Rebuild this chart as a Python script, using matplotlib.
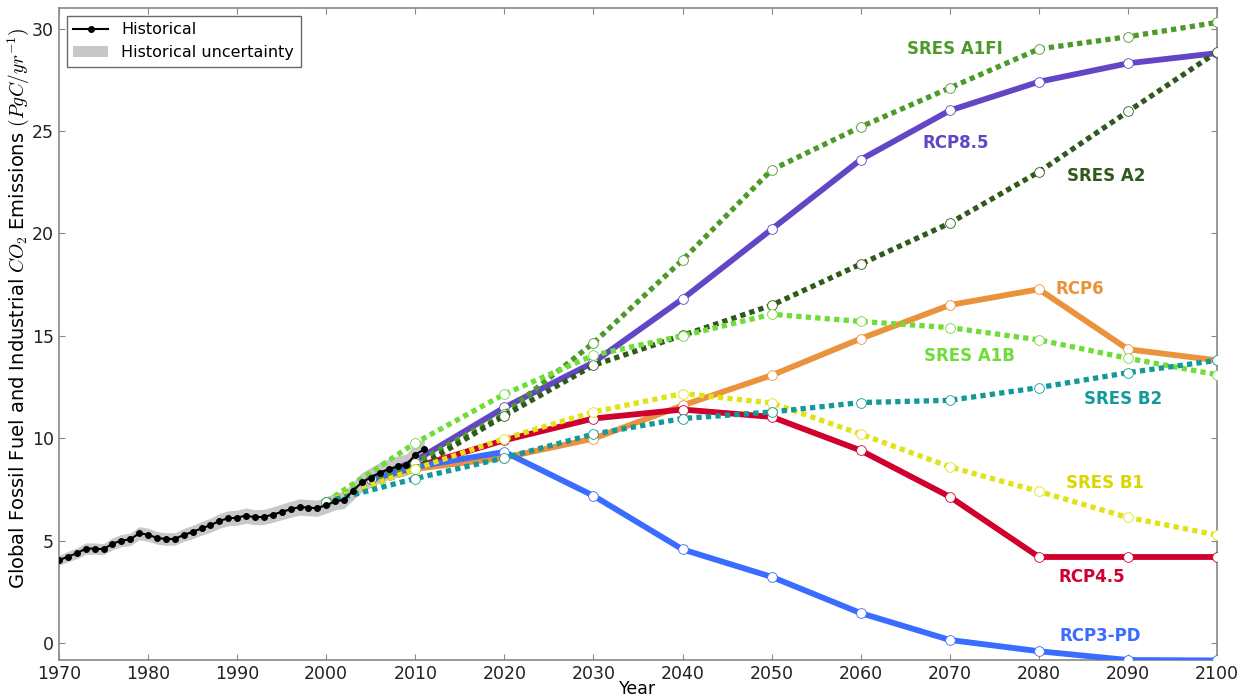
import numpy as np
import matplotlib.pyplot as plt

plt.rcParams['mathtext.fontset'] = 'cm'

# Historical emissions 1970-2011 (PgC/yr)
hist_years = np.arange(1970, 2012)
hist_vals = [4.04, 4.22, 4.38, 4.61, 4.61, 4.58, 4.85, 5.00, 5.06, 5.36,
             5.29, 5.13, 5.08, 5.08, 5.28, 5.42, 5.60, 5.75, 5.96, 6.09,
             6.12, 6.22, 6.14, 6.16, 6.27, 6.40, 6.53, 6.64, 6.61, 6.58,
             6.74, 6.91, 6.99, 7.43, 7.85, 8.08, 8.32, 8.49, 8.62, 8.70,
             9.20, 9.45]

# RCP scenarios
rcp_years = [2005, 2010, 2020, 2030, 2040, 2050, 2060, 2070, 2080, 2090, 2100]
rcp85 = [8.0, 8.9, 11.5, 13.7, 16.8, 20.2, 23.6, 26.0, 27.4, 28.3, 28.8]
rcp6 = [8.0, 8.5, 9.05, 9.98, 11.6, 13.07, 14.86, 16.5, 17.27, 14.34, 13.8]
rcp45 = [8.0, 8.6, 9.9, 10.96, 11.4, 11.04, 9.4, 7.14, 4.2, 4.2, 4.2]
rcp3pd = [8.0, 8.6, 9.33, 7.19, 4.57, 3.23, 1.46, 0.15, -0.4, -0.83, -0.85]

# SRES scenarios
sres_years = [2000, 2010, 2020, 2030, 2040, 2050, 2060, 2070, 2080, 2090, 2100]
a1fi = [6.9, 8.8, 11.2, 14.65, 18.7, 23.1, 25.2, 27.1, 29.0, 29.6, 30.3]
a2 = [6.9, 8.5, 11.1, 13.56, 15.02, 16.49, 18.5, 20.5, 23.0, 25.95, 28.85]
a1b = [6.9, 9.77, 12.15, 14.05, 15.0, 16.05, 15.7, 15.4, 14.8, 13.9, 13.1]
b1 = [6.9, 8.5, 9.98, 11.28, 12.18, 11.72, 10.2, 8.6, 7.4, 6.13, 5.27]
b2 = [6.9, 8.03, 9.04, 10.2, 10.96, 11.28, 11.74, 11.85, 12.47, 13.2, 13.8]

fig = plt.figure(figsize=(12.47, 6.98), dpi=100)
ax = fig.add_axes([0.0473, 0.0544, 0.9287, 0.9341])

# historical uncertainty band
hist = np.array(hist_vals)
ax.fill_between(hist_years, hist * 0.94, hist * 1.06, color='#c8c8c8',
                lw=0, label='Historical uncertainty', zorder=1)

# RCPs (solid)
rcps = [(rcp85, '#6246c6'), (rcp6, '#ea923c'),
        (rcp45, '#d0002e'), (rcp3pd, '#3a6cff')]
for vals, col in rcps:
    ax.plot(rcp_years, vals, color=col, lw=4.2, solid_capstyle='butt',
            marker='o', ms=7, mfc='white', mec=col, mew=0.6, zorder=3)

# SRES (dotted)
sres = [(a1fi, '#4d9a2a'), (a2, '#2f5a1a'), (a1b, '#70dc38'),
        (b1, '#e2e216'), (b2, '#14999a')]
for vals, col in sres:
    ax.plot(sres_years, vals, color=col, lw=3.8, dashes=(1, 0.8),
            marker='o', ms=7, mfc='white', mec=col, mew=0.6, zorder=4)

ax.plot(hist_years, hist_vals, color='black', lw=1.5, marker='o', ms=4,
        label='Historical', zorder=5)

# scenario labels
labels = [('SRES A1FI', 2070.6, 29.0, '#4d9a2a'),
          ('RCP8.5', 2070.7, 24.4, '#6246c6'),
          ('SRES A2', 2087.5, 22.8, '#2f5a1a'),
          ('RCP6', 2084.6, 17.3, '#ea923c'),
          ('SRES A1B', 2072.2, 14.0, '#70dc38'),
          ('SRES B2', 2089.4, 11.9, '#14999a'),
          ('SRES B1', 2087.4, 7.8, '#d8d800'),
          ('RCP4.5', 2085.9, 3.2, '#d0002e'),
          ('RCP3-PD', 2086.9, 0.35, '#3a6cff')]
for txt, x, y, col in labels:
    ax.text(x, y, txt, color=col, fontsize=12, fontweight='bold',
            ha='center', va='center', zorder=6)

ax.set_xlim(1970, 2100)
ax.set_ylim(-0.83, 31.0)
ax.set_xticks(np.arange(1970, 2101, 10))
ax.set_yticks(np.arange(0, 31, 5))
ax.tick_params(direction='in', top=True, right=True, labelsize=12.5,
               colors='#222222', length=4, color='#888888')
for sp in ax.spines.values():
    sp.set_color('#888888')
    sp.set_linewidth(1.2)

ax.set_xlabel('Year', fontsize=12.5, labelpad=-2)
ax.set_ylabel(r'Global Fossil Fuel and Industrial $CO_2$ Emissions $(PgC/yr^{-1})$',
              fontsize=14, labelpad=1)
ax.yaxis.label.set_y(0.54)

handles, lbls = ax.get_legend_handles_labels()
order = [lbls.index('Historical'), lbls.index('Historical uncertainty')]
leg = ax.legend([handles[i] for i in order], [lbls[i] for i in order],
                loc='upper left', fontsize=11.5, fancybox=False,
                handlelength=2.2, borderaxespad=0.5)
leg.get_frame().set_edgecolor('#444444')

fig.savefig('out.png', dpi=100)
